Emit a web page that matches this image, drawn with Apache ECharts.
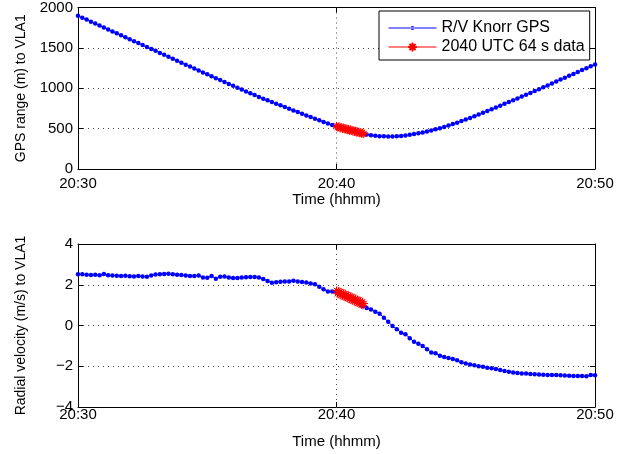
<!DOCTYPE html>
<html>
<head>
<meta charset="utf-8">
<script src="https://cdn.jsdelivr.net/npm/echarts@6/dist/echarts.min.js"></script>
<style>
  html, body { margin: 0; padding: 0; background: #fff; }
  #echart { width: 631px; height: 454px; }
</style>
</head>
<body>
<div id="echart"></div>
<script>
// tick labels for the shared time axis (seconds after 20:30)
const xTickLabels = ['20:30', '20:40', '20:50'];
const sampleStep = 10;   // GPS fixes every 10 s
const burstStart = 600;  // 2040 UTC
const burstStep = 2;

// GPS range (m) to VLA1, 20:30:00 .. 20:50:00
const gpsRange = [
  1898, 1874, 1850, 1825, 1801, 1776,
  1752, 1728, 1704, 1680, 1655, 1631,
  1607, 1583, 1559, 1535, 1511, 1487,
  1463, 1438, 1414, 1389, 1365, 1340,
  1316, 1292, 1268, 1244, 1220, 1196,
  1172, 1148, 1125, 1101, 1077, 1054,
  1030, 1007, 984, 961, 939, 916,
  893, 871, 850, 830, 809, 788,
  768, 747, 726, 705, 684, 664,
  643, 623, 603, 583, 564, 544,
  525, 508, 493, 478, 464, 451,
  438, 427, 418, 411, 407, 405,
  404, 404, 406, 410, 416, 423,
  432, 442, 453, 465, 478, 491,
  505, 521, 538, 556, 574, 593,
  612, 632, 653, 674, 696, 718,
  740, 762, 784, 807, 829, 852,
  874, 897, 919, 942, 965, 988,
  1011, 1035, 1059, 1083, 1107, 1131,
  1155, 1178, 1202, 1225, 1248, 1272,
  1295
];

// radial velocity (m/s) to VLA1, same times
const radialVel = [
  2.52, 2.51, 2.49, 2.48, 2.49, 2.47,
  2.53, 2.47, 2.45, 2.44, 2.43, 2.44,
  2.42, 2.41, 2.43, 2.41, 2.39, 2.46,
  2.50, 2.52, 2.53, 2.54, 2.51, 2.49,
  2.48, 2.45, 2.43, 2.43, 2.45, 2.36,
  2.34, 2.43, 2.30, 2.39, 2.41, 2.35,
  2.33, 2.33, 2.35, 2.37, 2.38, 2.38,
  2.35, 2.28, 2.19, 2.10, 2.12, 2.15,
  2.16, 2.16, 2.20, 2.16, 2.14, 2.11,
  2.06, 2.02, 1.90, 1.78, 1.67, 1.67,
  1.64, 1.55, 1.45, 1.35, 1.25, 1.12,
  0.95, 0.86, 0.78, 0.68, 0.58, 0.38,
  0.18, -0.02, -0.18, -0.35, -0.43, -0.62,
  -0.80, -0.90, -1.00, -1.16, -1.33, -1.36,
  -1.48, -1.54, -1.59, -1.65, -1.70, -1.80,
  -1.86, -1.91, -1.95, -2.00, -2.03, -2.07,
  -2.10, -2.14, -2.18, -2.23, -2.27, -2.31,
  -2.33, -2.35, -2.36, -2.38, -2.39, -2.41,
  -2.42, -2.43, -2.43, -2.43, -2.44, -2.45,
  -2.47, -2.48, -2.48, -2.48, -2.49, -2.43,
  -2.44
];

// 2040 UTC 64 s data
const burstRange = [
  533, 515, 529, 508, 525, 503, 518, 497, 512, 491, 507,
  484, 501, 479, 497, 474, 490, 469, 485, 463, 479, 458,
  474, 451, 468, 447, 462, 441, 456, 436, 450, 431, 440
];
const burstVel = [
  1.72, 1.56, 1.70, 1.52, 1.66, 1.47, 1.63, 1.45, 1.59, 1.40, 1.56,
  1.37, 1.51, 1.33, 1.48, 1.29, 1.44, 1.25, 1.40, 1.21, 1.36, 1.17,
  1.32, 1.13, 1.28, 1.10, 1.25, 1.06, 1.20, 1.02, 1.16, 0.99, 1.08
];

const gpsTimes = gpsRange.map((_, i) => i * sampleStep);
const burstTimes = burstRange.map((_, i) => burstStart + i * burstStep);
const pair = (ts, vs) => ts.map((t, i) => [t, vs[i]]);

const FONT = 'Liberation Sans';
const BLUE = '#0000ff';
const RED = '#ff0000';
const STAR = 'path://M0,5L10,5M5,0L5,10M1.5,1.5L8.5,8.5M1.5,8.5L8.5,1.5';
// legend icon: thin line with a small dot, padded to the 48x11 item box
const DOT_LINE = 'path://M0,0L0,0M0,5H48V6H0Z M22,5.5a2,2 0 1,0 4,0a2,2 0 1,0 -4,0Z M48,11L48,11';

const gridLine = { show: true, lineStyle: { color: '#444', width: 1, type: [1, 4] } };
const frame = { show: true, onZero: false, lineStyle: { color: '#000', width: 1 } };
const tickIn = { show: true, inside: true, length: 5, lineStyle: { color: '#000' } };
const minus = v => String(v).replace('-', '\u2212');

function timeAxis(gridIndex, margin, nameGap) {
  return {
    type: 'value', gridIndex, min: 0, max: 1200, interval: 600,
    axisLine: frame, axisTick: tickIn, splitLine: gridLine,
    axisLabel: {
      margin, color: '#000', fontFamily: FONT, fontSize: 15,
      formatter: v => xTickLabels[v / 600]
    },
    name: 'Time (hhmm)', nameLocation: 'middle', nameGap,
    nameTextStyle: { color: '#000', fontFamily: FONT, fontSize: 15 }
  };
}
function mirrorX(gridIndex) {
  return {
    type: 'value', gridIndex, position: 'top', min: 0, max: 1200, interval: 600,
    axisLine: frame, axisTick: tickIn, axisLabel: { show: false }, splitLine: { show: false }
  };
}
function valueAxis(gridIndex, min, max, interval, name) {
  return {
    type: 'value', gridIndex, min, max, interval,
    axisLine: frame, axisTick: tickIn, splitLine: gridLine,
    axisLabel: { margin: 5, color: '#000', fontFamily: FONT, fontSize: 15, formatter: minus },
    name, nameLocation: 'middle', nameGap: 50,
    nameTextStyle: { color: '#000', fontFamily: FONT, fontSize: 14 }
  };
}
function mirrorY(gridIndex, min, max, interval) {
  return {
    type: 'value', gridIndex, position: 'right', min, max, interval,
    axisLine: frame, axisTick: tickIn, axisLabel: { show: false }, splitLine: { show: false }
  };
}

const option = {
  animation: false,
  grid: [
    { left: 78, top: 6, width: 517, height: 163 },
    { left: 78, top: 244, width: 517, height: 163 }
  ],
  legend: {
    data: [
      { name: 'R/V Knorr GPS', icon: DOT_LINE },
      '2040 UTC 64 s data'
    ],
    orient: 'vertical', left: 379, top: 11,
    padding: [9, 5, 5, 9], itemGap: 3, itemWidth: 48, itemHeight: 11,
    lineStyle: { width: 1 },
    backgroundColor: '#fff', borderColor: '#000', borderWidth: 1, borderRadius: 0,
    textStyle: { color: '#000', fontFamily: FONT, fontSize: 16 }
  },
  xAxis: [timeAxis(0, 7, 22), mirrorX(0), timeAxis(1, 0, 27), mirrorX(1)],
  yAxis: [
    valueAxis(0, 0, 2000, 500, 'GPS range (m) to VLA1'), mirrorY(0, 0, 2000, 500),
    valueAxis(1, -4, 4, 2, 'Radial velocity (m/s) to VLA1'), mirrorY(1, -4, 4, 2)
  ],
  series: [
    {
      name: 'R/V Knorr GPS', type: 'line', xAxisIndex: 0, yAxisIndex: 0,
      data: pair(gpsTimes, gpsRange),
      symbol: 'circle', symbolSize: 4.5, showAllSymbol: true,
      lineStyle: { color: BLUE, width: 1 }, itemStyle: { color: BLUE }
    },
    {
      name: '2040 UTC 64 s data', type: 'line', xAxisIndex: 0, yAxisIndex: 0,
      data: pair(burstTimes, burstRange),
      symbol: STAR, symbolSize: 8, showAllSymbol: true,
      lineStyle: { color: RED, width: 0.6 },
      itemStyle: { color: RED, borderColor: RED, borderWidth: 1 }
    },
    {
      name: 'R/V Knorr GPS', type: 'line', xAxisIndex: 2, yAxisIndex: 2,
      data: pair(gpsTimes, radialVel),
      symbol: 'circle', symbolSize: 4.5, showAllSymbol: true,
      lineStyle: { color: BLUE, width: 1 }, itemStyle: { color: BLUE }
    },
    {
      name: '2040 UTC 64 s data', type: 'line', xAxisIndex: 2, yAxisIndex: 2,
      data: pair(burstTimes, burstVel),
      symbol: STAR, symbolSize: 8, showAllSymbol: true,
      lineStyle: { color: RED, width: 0.6 },
      itemStyle: { color: RED, borderColor: RED, borderWidth: 1 }
    }
  ]
};

const echart = echarts.init(document.getElementById('echart'));
echart.setOption(option);
</script>
</body>
</html>
